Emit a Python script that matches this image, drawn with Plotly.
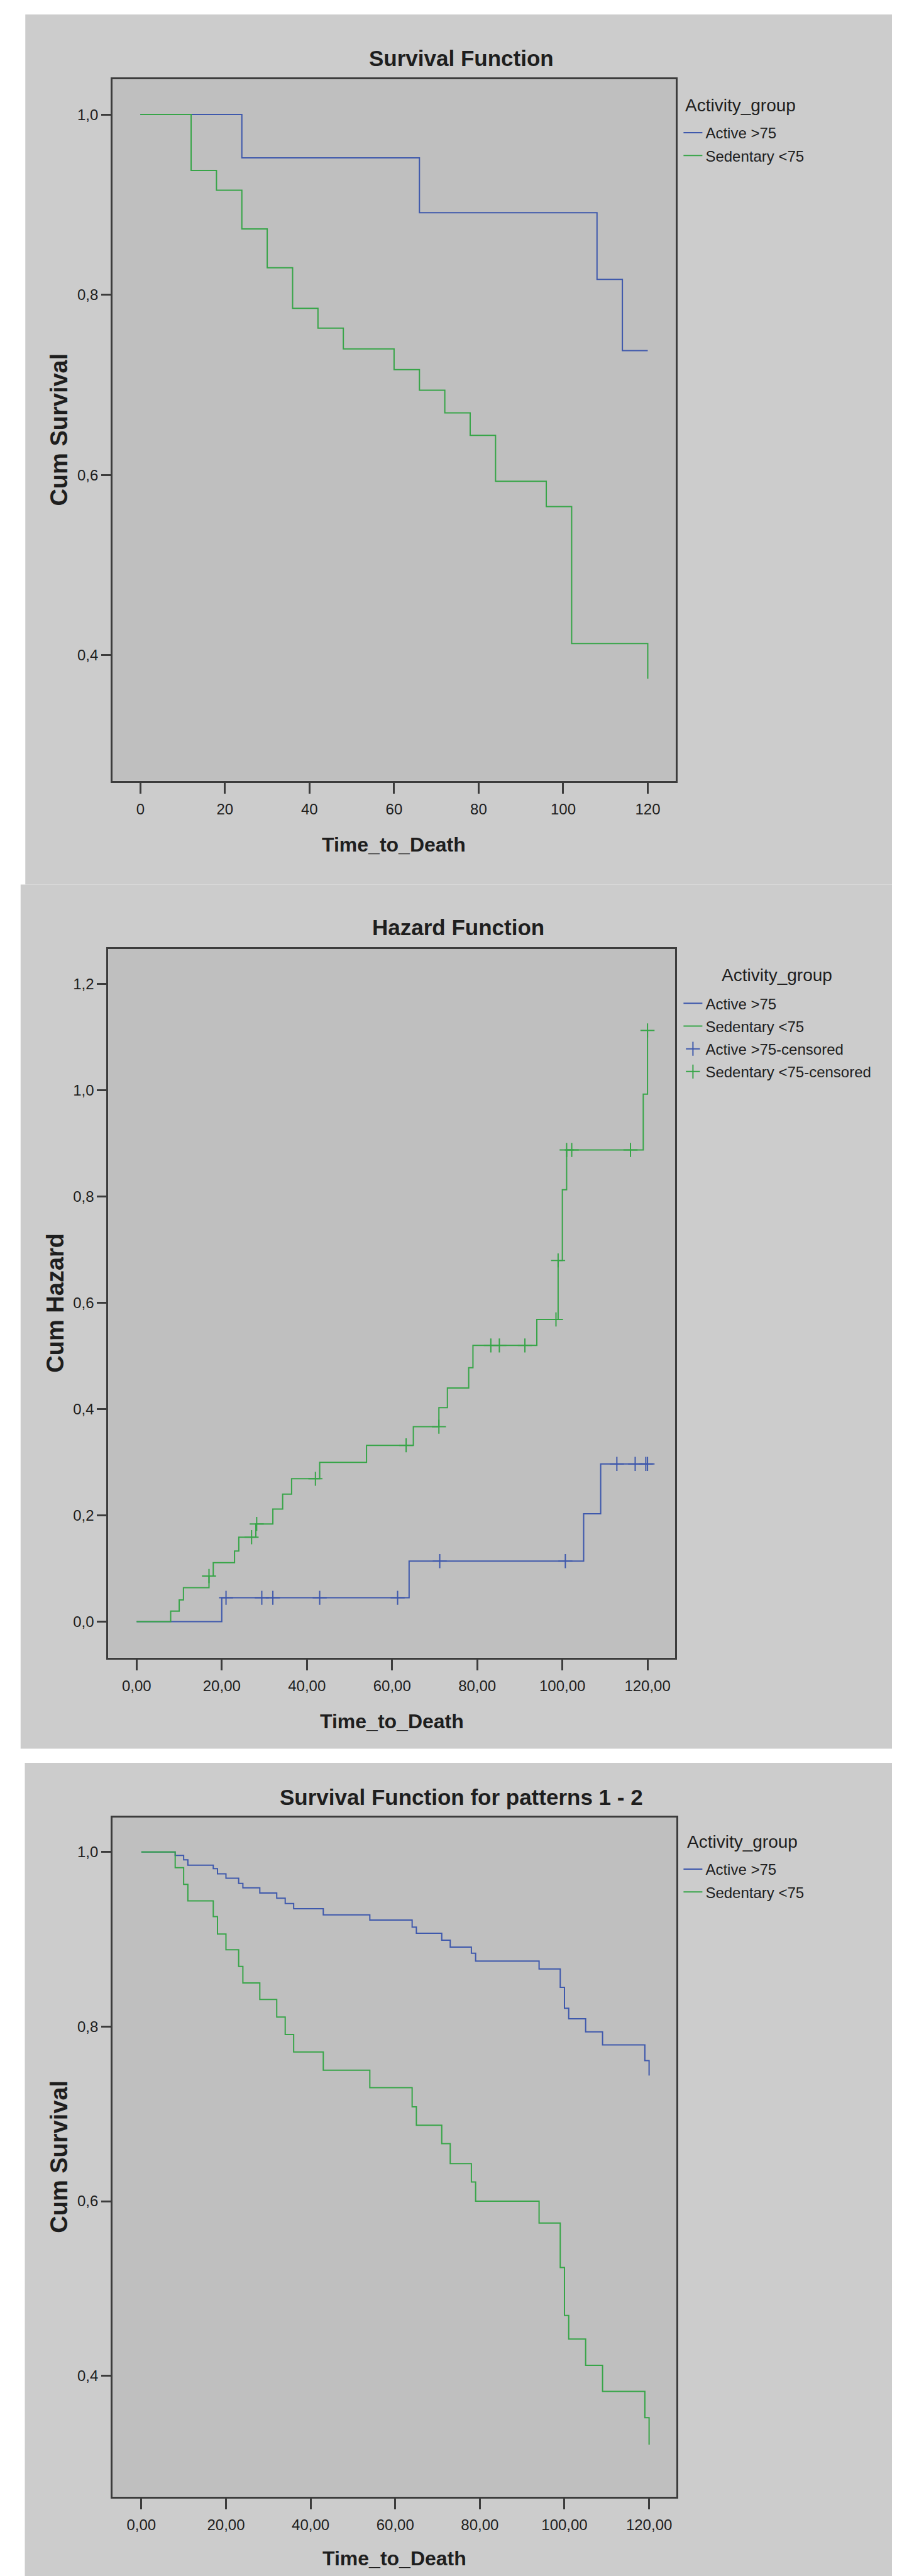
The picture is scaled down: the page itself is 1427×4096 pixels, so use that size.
import plotly.graph_objects as go

# ---------------- data ----------------
# Panel 1: Survival Function
p1_active_t = [0, 24, 66, 108, 114, 120]
p1_active_s = [1.0, 0.952, 0.891, 0.817, 0.738, 0.738]
p1_sed_t = [0, 12, 18, 24, 30, 36, 42, 48, 60, 66, 72, 78, 84, 96, 102, 120]
p1_sed_s = [1.0, 0.938, 0.916, 0.873, 0.830, 0.785, 0.763, 0.740, 0.717, 0.694,
            0.669, 0.644, 0.593, 0.565, 0.413, 0.374]

# Panel 2: Hazard Function
p2_active_t = [0, 20, 64, 105, 109, 120]
p2_active_h = [0.0, 0.045, 0.114, 0.203, 0.297, 0.297]
p2_active_cens_t = [21, 29.4, 32, 43, 61.3, 71.2, 100.7, 112.8, 117.1, 119.6, 120]
p2_active_cens_h = [0.045, 0.045, 0.045, 0.045, 0.045, 0.114, 0.114, 0.297, 0.297, 0.297, 0.297]
p2_sed_t = [0, 8, 10, 11, 17, 18, 23, 24, 28, 32, 34.3, 36.4, 43, 54, 65, 71, 73, 78, 79,
            94, 99, 100, 101, 119, 120]
p2_sed_h = [0.0, 0.020, 0.041, 0.064, 0.086, 0.111, 0.133, 0.159, 0.184, 0.212, 0.240, 0.269,
            0.300, 0.332, 0.367, 0.403, 0.440, 0.478, 0.520, 0.569, 0.680, 0.813, 0.888,
            0.993, 1.113]
p2_sed_cens_t = [17, 27, 28.2, 42, 63.3, 71, 83.2, 85.2, 91.2, 98.5, 99, 101, 102.2, 116, 120]
p2_sed_cens_h = [0.086, 0.159, 0.184, 0.269, 0.332, 0.367, 0.520, 0.520, 0.520, 0.569,
                 0.680, 0.888, 0.888, 0.888, 1.113]

# Panel 3: Survival Function for patterns 1 - 2
p3_t = [0, 8, 10, 11, 17, 18, 20, 23, 24, 28, 32, 34, 36, 43, 54, 64, 65, 71, 73, 78, 79,
        94, 99, 100, 101, 105, 109, 119, 120]
p3_active_s = [1.0, 0.996, 0.991, 0.985, 0.981, 0.975, 0.970, 0.964, 0.959, 0.953, 0.947,
               0.941, 0.935, 0.928, 0.922, 0.914, 0.907, 0.899, 0.891, 0.884, 0.875, 0.866,
               0.845, 0.821, 0.809, 0.794, 0.779, 0.761, 0.744]
p3_sed_s = [1.0, 0.982, 0.963, 0.944, 0.926, 0.906, 0.888, 0.869, 0.850, 0.831, 0.811,
            0.791, 0.771, 0.750, 0.730, 0.708, 0.687, 0.666, 0.643, 0.622, 0.600, 0.575,
            0.524, 0.469, 0.442, 0.412, 0.382, 0.352, 0.321]

group_names = ["Active >75", "Sedentary <75"]
cens_names = ["Active >75-censored", "Sedentary <75-censored"]
titles = ["Survival Function", "Hazard Function", "Survival Function for patterns 1 - 2"]
y_titles = ["Cum Survival", "Cum Hazard", "Cum Survival"]
x_title = "Time_to_Death"
legend_title = "Activity_group"

# ---------------- styling / layout (reference pixel geometry) ----------------
RW, RH = 1902.0, 5459.0
W, H = 1427, 4096
BLUE = "#3E58AC"
GREEN = "#37A548"
FONT = "Liberation Sans, Arial, sans-serif"
TXT = "#1e1e1e"
AX = "#3c3c3c"


def px(x):
    return x / RW


def py(y):
    return 1 - y / RH


fig = go.Figure()


def line_trace(x, y, color, name, leg, xa, ya, grp):
    return go.Scatter(x=x, y=y, mode="lines", line=dict(color=color, width=2, shape="hv"),
                      name=name, legend=leg, legendgroup=grp, xaxis=xa, yaxis=ya)


def cens_trace(x, y, color, name, leg, xa, ya, grp):
    return go.Scatter(x=x, y=y, mode="markers",
                      marker=dict(symbol="cross-thin", size=16, line=dict(color=color, width=2)),
                      name=name, legend=leg, legendgroup=grp, xaxis=xa, yaxis=ya)


# panel 1
fig.add_trace(line_trace(p1_active_t, p1_active_s, BLUE, group_names[0], "legend", "x", "y", "a1"))
fig.add_trace(line_trace(p1_sed_t, p1_sed_s, GREEN, group_names[1], "legend", "x", "y", "s1"))
# panel 2
fig.add_trace(line_trace(p2_active_t, p2_active_h, BLUE, group_names[0], "legend2", "x2", "y2", "a2"))
fig.add_trace(line_trace(p2_sed_t, p2_sed_h, GREEN, group_names[1], "legend2", "x2", "y2", "s2"))
fig.add_trace(cens_trace(p2_active_cens_t, p2_active_cens_h, BLUE, cens_names[0], "legend2", "x2", "y2", "ac2"))
fig.add_trace(cens_trace(p2_sed_cens_t, p2_sed_cens_h, GREEN, cens_names[1], "legend2", "x2", "y2", "sc2"))
# panel 3
fig.add_trace(line_trace(p3_t, p3_active_s, BLUE, group_names[0], "legend3", "x3", "y3", "a3"))
fig.add_trace(line_trace(p3_t, p3_sed_s, GREEN, group_names[1], "legend3", "x3", "y3", "s3"))

# panel geometry in reference pixels
panels = [
    dict(bg=(43, 20, 1887, 1864), box=(228, 157, 1422, 1644), xr=[-6.58, 126.6], yr=[0.2607, 1.0393],
         title=(967, 112), xt=(825, 1779), yt=(115, 900), yfmt=".1f", xfmt="d", y0=0.4,
         leg_title=(1440, 212, "left"), leg_top=241),
    dict(bg=(33, 1864, 1887, 3695), box=(219, 2000, 1421, 3502), xr=[-6.65, 126.5], yr=[-0.0675, 1.2666],
         title=(961, 1954), xt=(820, 3637), yt=(107, 2750), yfmt=".1f", xfmt=".2f", y0=0.0,
         leg_title=(1637, 2056, "center"), leg_top=2086),
    dict(bg=(42, 3725, 1887, 5459), box=(228, 3841, 1424, 5280), xr=[-6.8, 126.5], yr=[0.2616, 1.0395],
         title=(967, 3798), xt=(826, 5411), yt=(115, 4560), yfmt=".1f", xfmt=".2f", y0=0.4,
         leg_title=(1443, 3893, "left"), leg_top=3921),
]

shapes = []
annotations = []
layout_extra = {}
leg_names = ["legend", "legend2", "legend3"]
for i, p in enumerate(panels):
    x0, y0, x1, y1 = p["bg"]
    shapes.append(dict(type="rect", xref="paper", yref="paper", x0=px(x0), x1=px(x1), y0=py(y1), y1=py(y0),
                       fillcolor="#cccccc", line=dict(width=0), layer="below"))
    bx0, by0, bx1, by1 = p["box"]
    shapes.append(dict(type="rect", xref="paper", yref="paper", x0=px(bx0), x1=px(bx1), y0=py(by1), y1=py(by0),
                       fillcolor="#bfbfbf", line=dict(width=0), layer="below"))
    sfx = "" if i == 0 else str(i + 1)
    layout_extra["xaxis" + sfx] = dict(
        domain=[px(bx0), px(bx1)], range=p["xr"], anchor="y" + sfx, tick0=0, dtick=20,
        tickformat=p["xfmt"], showgrid=False, zeroline=False, showline=True, mirror=True,
        linecolor=AX, linewidth=3, ticks="outside", ticklen=17, tickwidth=3, tickcolor=AX,
        ticklabelstandoff=5, tickfont=dict(family=FONT, size=24, color=TXT))
    layout_extra["yaxis" + sfx] = dict(
        domain=[py(by1), py(by0)], range=p["yr"], anchor="x" + sfx, tick0=p["y0"], dtick=0.2,
        tickformat=p["yfmt"], showgrid=False, zeroline=False, showline=True, mirror=True,
        linecolor=AX, linewidth=3, ticks="outside", ticklen=15, tickwidth=3, tickcolor=AX,
        tickfont=dict(family=FONT, size=24, color=TXT))
    tx, ty = p["title"]
    annotations.append(dict(text="<b>" + titles[i] + "</b>", xref="paper", yref="paper", x=px(tx), y=py(ty),
                            xanchor="center", yanchor="middle", showarrow=False,
                            font=dict(family=FONT, size=35, color=TXT)))
    ax_, ay_ = p["xt"]
    annotations.append(dict(text="<b>" + x_title + "</b>", xref="paper", yref="paper", x=px(ax_), y=py(ay_),
                            xanchor="center", yanchor="middle", showarrow=False,
                            font=dict(family=FONT, size=32, color=TXT)))
    yx_, yy_ = p["yt"]
    annotations.append(dict(text="<b>" + y_titles[i] + "</b>", xref="paper", yref="paper", x=px(yx_), y=py(yy_),
                            xanchor="center", yanchor="middle", showarrow=False, textangle=-90,
                            font=dict(family=FONT, size=38, color=TXT)))
    lx, ly, lanchor = p["leg_title"]
    annotations.append(dict(text=legend_title, xref="paper", yref="paper", x=px(lx), y=py(ly),
                            xanchor=lanchor, yanchor="middle", showarrow=False,
                            font=dict(family=FONT, size=28, color=TXT)))
    layout_extra[leg_names[i]] = dict(
        x=px(1432), y=py(p["leg_top"]), xanchor="left", yanchor="top", bgcolor="rgba(0,0,0,0)",
        borderwidth=0, tracegroupgap=2, font=dict(family=FONT, size=24, color=TXT),
        itemclick=False, itemdoubleclick=False)

fig.update_layout(
    width=W, height=H, margin=dict(l=0, r=0, t=0, b=0, autoexpand=False),
    paper_bgcolor="white", plot_bgcolor="rgba(0,0,0,0)",
    separators=",.",
    shapes=shapes, annotations=annotations,
    **layout_extra,
)

fig.write_html("out.html")
